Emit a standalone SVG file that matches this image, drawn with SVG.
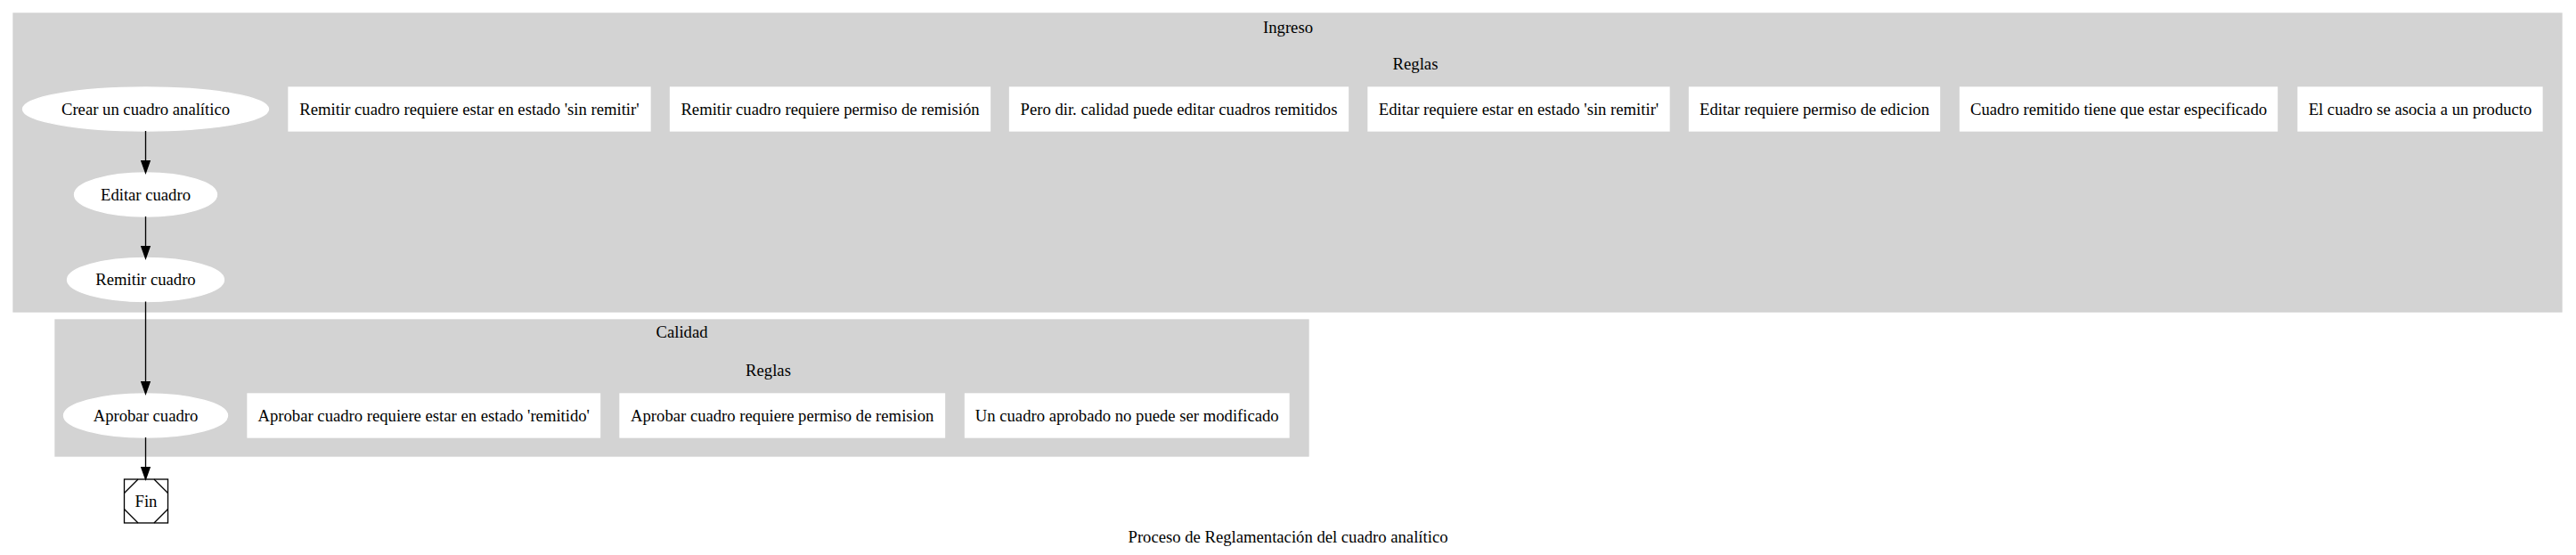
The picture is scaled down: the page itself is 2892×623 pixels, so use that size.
<svg xmlns="http://www.w3.org/2000/svg" width="2892" height="623" viewBox="0 0 2892 623">
<style>
text{font-family:"Liberation Serif","Times New Roman",serif;font-size:18.67px;fill:#000;text-anchor:middle}
.cl{fill:#d3d3d3;stroke:#d3d3d3;stroke-width:1.33}
.nd{fill:#fff;stroke:#fff;stroke-width:1.33}
.ed{fill:none;stroke:#000;stroke-width:1.33}
.ah{fill:#000;stroke:#000;stroke-width:1.33}
</style>
<rect width="2892" height="623" fill="#fff"/>
<g id="cluster_ingreso">
<rect class="cl" x="15" y="15" width="2861" height="335"/>
<text x="1446" y="37">Ingreso</text>
<text x="1589" y="78">Reglas</text>
</g>
<g id="cluster_calidad">
<rect class="cl" x="62" y="359" width="1407" height="153"/>
<text x="765.5" y="379">Calidad</text>
<text x="862.5" y="422">Reglas</text>
</g>
<g id="crear"><ellipse class="nd" cx="163.5" cy="122.5" rx="138" ry="24.5"/><text x="163.5" y="128.5">Crear un cuadro analítico</text></g>
<g id="editar"><ellipse class="nd" cx="163.5" cy="218.5" rx="80" ry="24.5"/><text x="163.5" y="224.5">Editar cuadro</text></g>
<g id="remitir"><ellipse class="nd" cx="163.5" cy="314" rx="88" ry="24.5"/><text x="163.5" y="320">Remitir cuadro</text></g>
<g id="aprobar"><ellipse class="nd" cx="163.5" cy="466.5" rx="92" ry="24.5"/><text x="163.5" y="472.5">Aprobar cuadro</text></g>
<g id="fin">
<rect x="139.5" y="538" width="49" height="49" fill="#fff" stroke="#000" stroke-width="1.33"/>
<path d="M155,538L139.5,553.5M173,538L188.5,553.5M139.5,571.5L155,587M188.5,571.5L173,587" fill="none" stroke="#000" stroke-width="1.33"/>
<text x="164" y="568.5">Fin</text>
</g>
<g id="r1"><rect class="nd" x="324" y="98" width="406" height="49"/><text x="527" y="128.5">Remitir cuadro requiere estar en estado 'sin remitir'</text></g>
<g id="r2"><rect class="nd" x="752.5" y="98" width="359" height="49"/><text x="932" y="128.5">Remitir cuadro requiere permiso de remisión</text></g>
<g id="r3"><rect class="nd" x="1133.5" y="98" width="380" height="49"/><text x="1323.5" y="128.5">Pero dir. calidad puede editar cuadros remitidos</text></g>
<g id="r4"><rect class="nd" x="1536" y="98" width="338" height="49"/><text x="1705" y="128.5">Editar requiere estar en estado 'sin remitir'</text></g>
<g id="r5"><rect class="nd" x="1896.5" y="98" width="281" height="49"/><text x="2037" y="128.5">Editar requiere permiso de edicion</text></g>
<g id="r6"><rect class="nd" x="2200.5" y="98" width="356" height="49"/><text x="2378.5" y="128.5">Cuadro remitido tiene que estar especificado</text></g>
<g id="r7"><rect class="nd" x="2580" y="98" width="274" height="49"/><text x="2717" y="128.5">El cuadro se asocia a un producto</text></g>
<g id="q1"><rect class="nd" x="278" y="442" width="395.5" height="49"/><text x="475.75" y="472.5">Aprobar cuadro requiere estar en estado 'remitido'</text></g>
<g id="q2"><rect class="nd" x="696" y="442" width="364.5" height="49"/><text x="878.25" y="472.5">Aprobar cuadro requiere permiso de remision</text></g>
<g id="q3"><rect class="nd" x="1083.5" y="442" width="363.5" height="49"/><text x="1265.25" y="472.5">Un cuadro aprobado no puede ser modificado</text></g>
<g id="edges">
<path class="ed" d="M163.5,147V180.7"/>
<polygon class="ah" points="158.8,180.7 163.5,194 168.2,180.7"/>
<path class="ed" d="M163.5,243V276.7"/>
<polygon class="ah" points="158.8,276.7 163.5,290 168.2,276.7"/>
<path class="ed" d="M163.5,338.5V428.7"/>
<polygon class="ah" points="158.8,428.7 163.5,442 168.2,428.7"/>
<path class="ed" d="M163.5,491V524.7"/>
<polygon class="ah" points="158.8,524.7 163.5,538 168.2,524.7"/>
</g>
<text x="1446" y="609">Proceso de Reglamentación del cuadro analítico</text>
</svg>
